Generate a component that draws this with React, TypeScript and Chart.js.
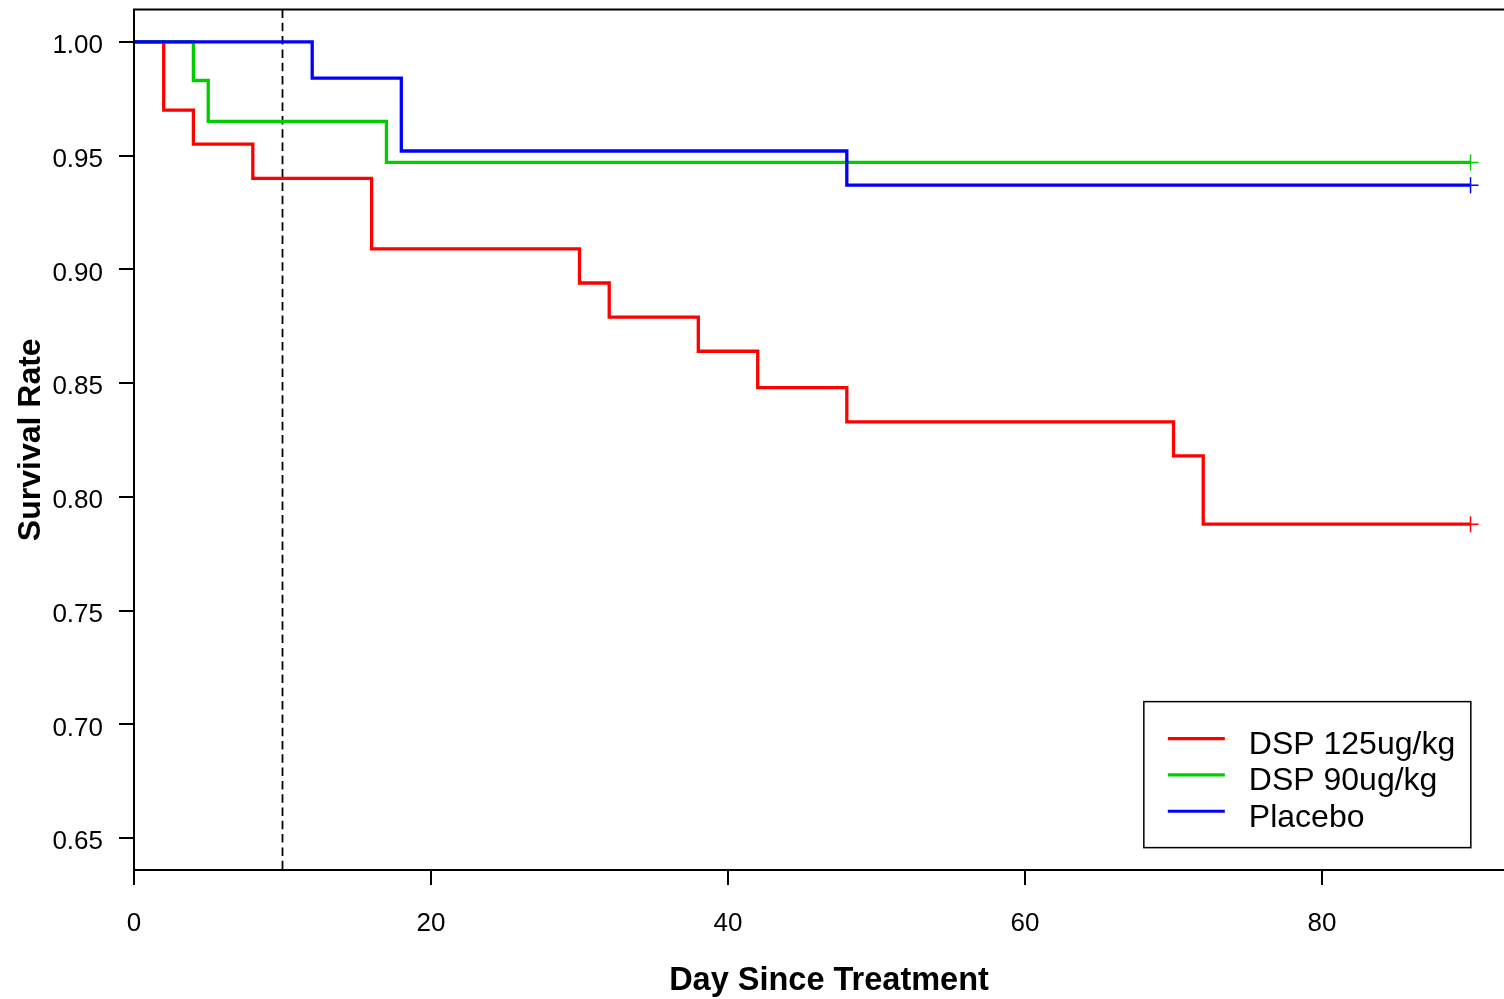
import React, { useEffect, useRef } from "react";
import { Chart, registerables } from "chart.js";

Chart.register(...registerables);

// ---- data ----
const SERIES_LABELS = ["DSP 125ug/kg", "DSP 90ug/kg", "Placebo"];
const SERIES_COLORS = ["#FF0000", "#00CD00", "#0000FF"];

const RED_DAYS = [0, 2, 4, 8, 16, 30, 32, 38, 42, 48, 70, 72, 90];
const RED_SURV = [1.0, 0.97, 0.955, 0.94, 0.909, 0.894, 0.879, 0.864, 0.848, 0.833, 0.818, 0.788, 0.788];

const GREEN_DAYS = [0, 4, 5, 17, 90];
const GREEN_SURV = [1.0, 0.983, 0.965, 0.947, 0.947];

const BLUE_DAYS = [0, 12, 18, 48, 90];
const BLUE_SURV = [1.0, 0.984, 0.952, 0.937, 0.937];

const X_TICKS = [0, 20, 40, 60, 80];
const Y_TICKS = [0.65, 0.7, 0.75, 0.8, 0.85, 0.9, 0.95, 1.0];
const REF_DAY = 10;

const X_TITLE = "Day Since Treatment";
const Y_TITLE = "Survival Rate";

// ---- styling constants ----
const FONT = "'Liberation Sans', Arial, Helvetica, sans-serif";
const LEGEND_ANCHOR = { day: 68, surv: 0.71 };

function toPoints(days: number[], surv: number[]) {
  return days.map((d, i) => ({ x: d, y: surv[i] }));
}

const framePlugin = {
  id: "frame",
  beforeDatasetsDraw(chart: any) {
    const { ctx, chartArea: a, scales } = chart;
    const x = scales.x.getPixelForValue(REF_DAY);
    ctx.save();
    ctx.strokeStyle = "#000";
    ctx.lineWidth = 1.8;
    ctx.setLineDash([8.5, 4.8]);
    ctx.beginPath();
    ctx.moveTo(x, a.top);
    ctx.lineTo(x, a.bottom);
    ctx.stroke();
    ctx.restore();
  },
  afterDraw(chart: any) {
    const { ctx, chartArea: a, scales } = chart;
    ctx.save();
    // plot box
    ctx.strokeStyle = "#000";
    ctx.lineWidth = 2;
    ctx.strokeRect(a.left, a.top, a.right - a.left, a.bottom - a.top);

    // legend
    const left = scales.x.getPixelForValue(LEGEND_ANCHOR.day);
    const top = scales.y.getPixelForValue(LEGEND_ANCHOR.surv);
    const w = 327;
    const h = 146;
    ctx.fillStyle = "#fff";
    ctx.fillRect(left, top, w, h);
    ctx.lineWidth = 1.5;
    ctx.strokeRect(left, top, w, h);
    ctx.font = `32px ${FONT}`;
    ctx.textAlign = "left";
    ctx.textBaseline = "alphabetic";
    chart.data.datasets.forEach((ds: any, i: number) => {
      const ry = top + 37 + i * 36.3;
      ctx.strokeStyle = ds.borderColor;
      ctx.lineWidth = 3.2;
      ctx.beginPath();
      ctx.moveTo(left + 24, ry);
      ctx.lineTo(left + 81, ry);
      ctx.stroke();
      ctx.fillStyle = "#000";
      ctx.fillText(ds.label, left + 105, ry + 15.5);
    });
    ctx.restore();
  },
};

export default function App() {
  const ref = useRef<HTMLCanvasElement | null>(null);

  useEffect(() => {
    if (!ref.current) return;
    const series = [
      toPoints(RED_DAYS, RED_SURV),
      toPoints(GREEN_DAYS, GREEN_SURV),
      toPoints(BLUE_DAYS, BLUE_SURV),
    ];
    const datasets = series.map((pts, i) => ({
      label: SERIES_LABELS[i],
      data: pts,
      borderColor: SERIES_COLORS[i],
      backgroundColor: SERIES_COLORS[i],
      borderWidth: 3.3,
      stepped: true,
      fill: false,
      order: 2 - i,
      pointStyle: "cross",
      pointBorderColor: SERIES_COLORS[i],
      pointBorderWidth: 1.5,
      pointRadius: (c: any) => (c.dataIndex === c.dataset.data.length - 1 ? 8 : 0),
      pointHoverRadius: (c: any) => (c.dataIndex === c.dataset.data.length - 1 ? 8 : 0),
    }));

    const chart = new Chart(ref.current, {
      type: "line",
      data: { datasets } as any,
      options: {
        animation: false,
        responsive: false,
        devicePixelRatio: 1,
        layout: { padding: { top: 8, right: 16, bottom: 0, left: 0 } },
        plugins: { legend: { display: false }, tooltip: { enabled: false } },
        scales: {
          x: {
            type: "linear",
            min: 0,
            max: 93.6,
            border: { display: false },
            grid: {
              display: true,
              drawOnChartArea: false,
              drawTicks: true,
              tickLength: 15,
              color: "#000",
              lineWidth: 2,
            },
            ticks: {
              padding: 23,
              color: "#000",
              font: { family: FONT, size: 26 },
              maxRotation: 0,
              autoSkip: false,
              callback: (v: any) => String(v),
            },
            afterBuildTicks: (s: any) => {
              s.ticks = X_TICKS.map((v) => ({ value: v }));
            },
            afterFit: (s: any) => {
              s.height = 129;
              s.paddingLeft = 0;
              s.paddingRight = 0;
            },
            title: {
              display: true,
              text: X_TITLE,
              color: "#000",
              font: { family: FONT, size: 32.5, weight: "bold", lineHeight: 1.1 },
              padding: { top: 0, bottom: 0 },
            },
          },
          y: {
            type: "linear",
            min: 0.636,
            max: 1.0142,
            border: { display: false },
            grid: {
              display: true,
              drawOnChartArea: false,
              drawTicks: true,
              tickLength: 15,
              color: "#000",
              lineWidth: 2,
            },
            ticks: {
              padding: 16,
              labelOffset: 4,
              color: "#000",
              font: { family: FONT, size: 26 },
              autoSkip: false,
              callback: (v: any) => Number(v).toFixed(2),
            },
            afterBuildTicks: (s: any) => {
              s.ticks = Y_TICKS.map((v) => ({ value: v }));
            },
            afterFit: (s: any) => {
              s.width = 134;
              s.paddingTop = 0;
              s.paddingBottom = 0;
            },
            title: {
              display: true,
              text: Y_TITLE,
              color: "#000",
              font: { family: FONT, size: 32, weight: "bold" },
              padding: { top: 12, bottom: 0 },
            },
          },
        },
      } as any,
      plugins: [framePlugin],
    });
    return () => chart.destroy();
  }, []);

  return (
    <div
      style={{
        position: "absolute",
        left: 0,
        top: 0,
        width: 1504,
        height: 999,
        overflow: "hidden",
        background: "#fff",
      }}
    >
      <canvas ref={ref} width={1540} height={999} style={{ display: "block", width: 1540, height: 999 }} />
    </div>
  );
}
